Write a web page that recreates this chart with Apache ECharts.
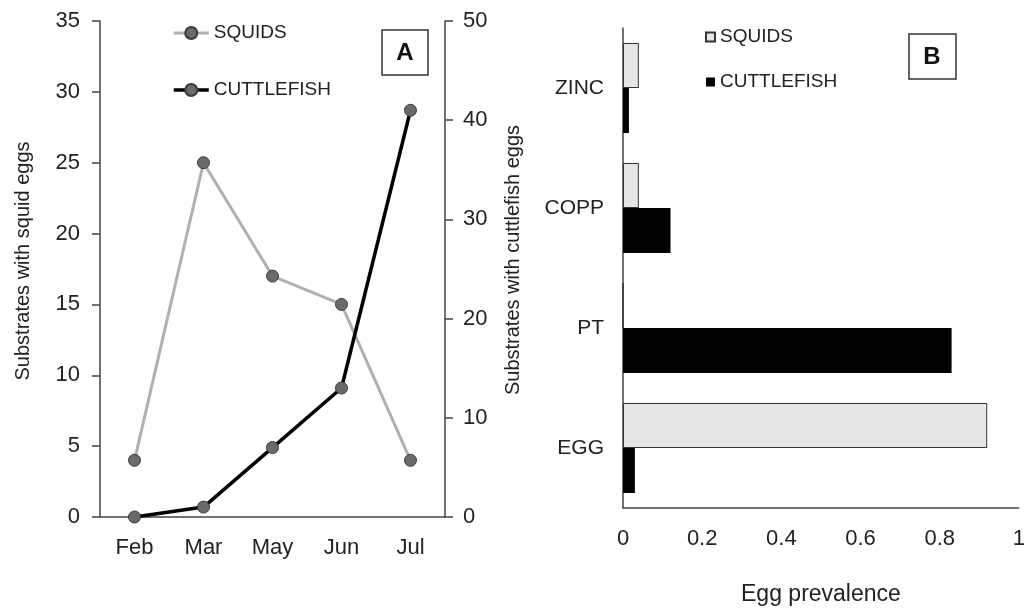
<!DOCTYPE html>
<html>
<head>
<meta charset="utf-8">
<script src="https://cdn.jsdelivr.net/npm/echarts@6/dist/echarts.min.js"></script>
<style>html,body{margin:0;padding:0;background:#fff}#c{width:1028px;height:611px}</style>
</head>
<body>
<div id="c"></div>
<script>
// Panel A data
const months = ['Feb', 'Mar', 'May', 'Jun', 'Jul'];
const squidCounts = [4, 25, 17, 15, 4];
const cuttleCounts = [0, 1, 7, 13, 41];
// Panel B data
const substrates = ['EGG', 'PT', 'COPP', 'ZINC'];
const squidPrev = [0.92, 0, 0.04, 0.04];
const cuttlePrev = [0.03, 0.83, 0.12, 0.015];

const FONT = 'Liberation Sans, Arial, sans-serif';
const TXT = '#222';
const AX = '#444';
const axisLine = {show: true, lineStyle: {color: AX, width: 1.5}};

const chart = echarts.init(document.getElementById('c'));
chart.setOption({
  backgroundColor: '#fff',
  animation: false,
  textStyle: {fontFamily: FONT, color: TXT},
  grid: [
    {left: 100, right: 583, top: 21, bottom: 94},
    {left: 623, right: 5, top: 28, bottom: 102}
  ],
  legend: [
    {
      orient: 'vertical', left: 167, top: 18, itemWidth: 35, itemHeight: 15, itemGap: 37,
      data: [
        {name: 'SQUIDS', lineStyle: {width: 3, color: '#b0b0b0'}},
        {name: 'CUTTLEFISH', lineStyle: {width: 3.5, color: '#000'}}
      ],
      textStyle: {fontFamily: FONT, fontSize: 19, color: TXT, lineHeight: 20}
    },
    {
      orient: 'vertical', left: 700, top: 22, itemWidth: 9, itemHeight: 9, itemGap: 25, icon: 'rect',
      data: ['B-SQUIDS', 'B-CUTTLEFISH'],
      formatter: n => n.replace('B-', ''),
      textStyle: {fontFamily: FONT, fontSize: 19, color: TXT, lineHeight: 20}
    }
  ],
  xAxis: [
    {
      gridIndex: 0, type: 'category', data: months, boundaryGap: true,
      axisLine: axisLine, axisTick: {show: false},
      axisLabel: {fontSize: 22, color: TXT, margin: 20, fontFamily: FONT}
    },
    {
      gridIndex: 1, type: 'value', min: 0, max: 1, interval: 0.2,
      axisLine: axisLine, axisTick: {show: false}, splitLine: {show: false},
      axisLabel: {fontSize: 22, color: TXT, margin: 20, fontFamily: FONT},
      name: 'Egg prevalence', nameLocation: 'middle', nameGap: 75,
      nameTextStyle: {fontSize: 23, color: TXT, fontFamily: FONT}
    }
  ],
  yAxis: [
    {
      gridIndex: 0, type: 'value', min: 0, max: 35, interval: 5, position: 'left',
      axisLine: axisLine, axisTick: {show: true, length: 8, lineStyle: {color: AX, width: 1.5}},
      splitLine: {show: false},
      axisLabel: {fontSize: 22, color: TXT, margin: 20, fontFamily: FONT},
      name: 'Substrates with squid eggs', nameLocation: 'middle', nameGap: 67, nameRotate: 90,
      nameTextStyle: {fontSize: 20, color: TXT, fontFamily: FONT, padding: [0, 0, 0, 16]}
    },
    {
      gridIndex: 0, type: 'value', min: 0, max: 50, interval: 10, position: 'right',
      axisLine: axisLine, axisTick: {show: true, length: 8, lineStyle: {color: AX, width: 1.5}},
      splitLine: {show: false},
      axisLabel: {fontSize: 22, color: TXT, margin: 18, fontFamily: FONT},
      name: 'Substrates with cuttlefish eggs', nameLocation: 'middle', nameGap: 58, nameRotate: 90,
      nameTextStyle: {fontSize: 20, color: TXT, fontFamily: FONT, padding: [0, 0, 0, 18]}
    },
    {
      gridIndex: 1, type: 'category', data: substrates,
      axisLine: axisLine, axisTick: {show: false},
      axisLabel: {fontSize: 21, color: TXT, margin: 19, fontFamily: FONT}
    }
  ],
  graphic: [
    {type: 'rect', shape: {x: 382, y: 30, width: 46, height: 45}, style: {fill: '#fff', stroke: '#333', lineWidth: 1.5}, z: 100},
    {type: 'text', x: 405, y: 53, style: {text: 'A', font: 'bold 24px ' + FONT, fill: '#111', align: 'center', verticalAlign: 'middle'}, z: 101},
    {type: 'rect', shape: {x: 909, y: 34, width: 47, height: 45}, style: {fill: '#fff', stroke: '#333', lineWidth: 1.5}, z: 100},
    {type: 'text', x: 932, y: 57, style: {text: 'B', font: 'bold 24px ' + FONT, fill: '#111', align: 'center', verticalAlign: 'middle'}, z: 101}
  ],
  series: [
    {
      name: 'SQUIDS', type: 'line', xAxisIndex: 0, yAxisIndex: 0, data: squidCounts,
      symbol: 'circle', symbolSize: 12,
      lineStyle: {color: '#b0b0b0', width: 3},
      itemStyle: {color: '#6a6a6a', borderColor: '#3a3a3a', borderWidth: 1}
    },
    {
      name: 'CUTTLEFISH', type: 'line', xAxisIndex: 0, yAxisIndex: 1, data: cuttleCounts,
      symbol: 'circle', symbolSize: 12,
      lineStyle: {color: '#000', width: 3.5},
      itemStyle: {color: '#6a6a6a', borderColor: '#3a3a3a', borderWidth: 1}
    },
    {
      name: 'B-SQUIDS', type: 'bar', xAxisIndex: 1, yAxisIndex: 2, data: squidPrev,
      barGap: '0%', barCategoryGap: '25%',
      itemStyle: {color: '#e6e6e6', borderColor: '#333', borderWidth: 1}
    },
    {
      name: 'B-CUTTLEFISH', type: 'bar', xAxisIndex: 1, yAxisIndex: 2, data: cuttlePrev,
      barGap: '0%', barCategoryGap: '25%',
      itemStyle: {color: '#000'}
    }
  ]
});
</script>
</body>
</html>
